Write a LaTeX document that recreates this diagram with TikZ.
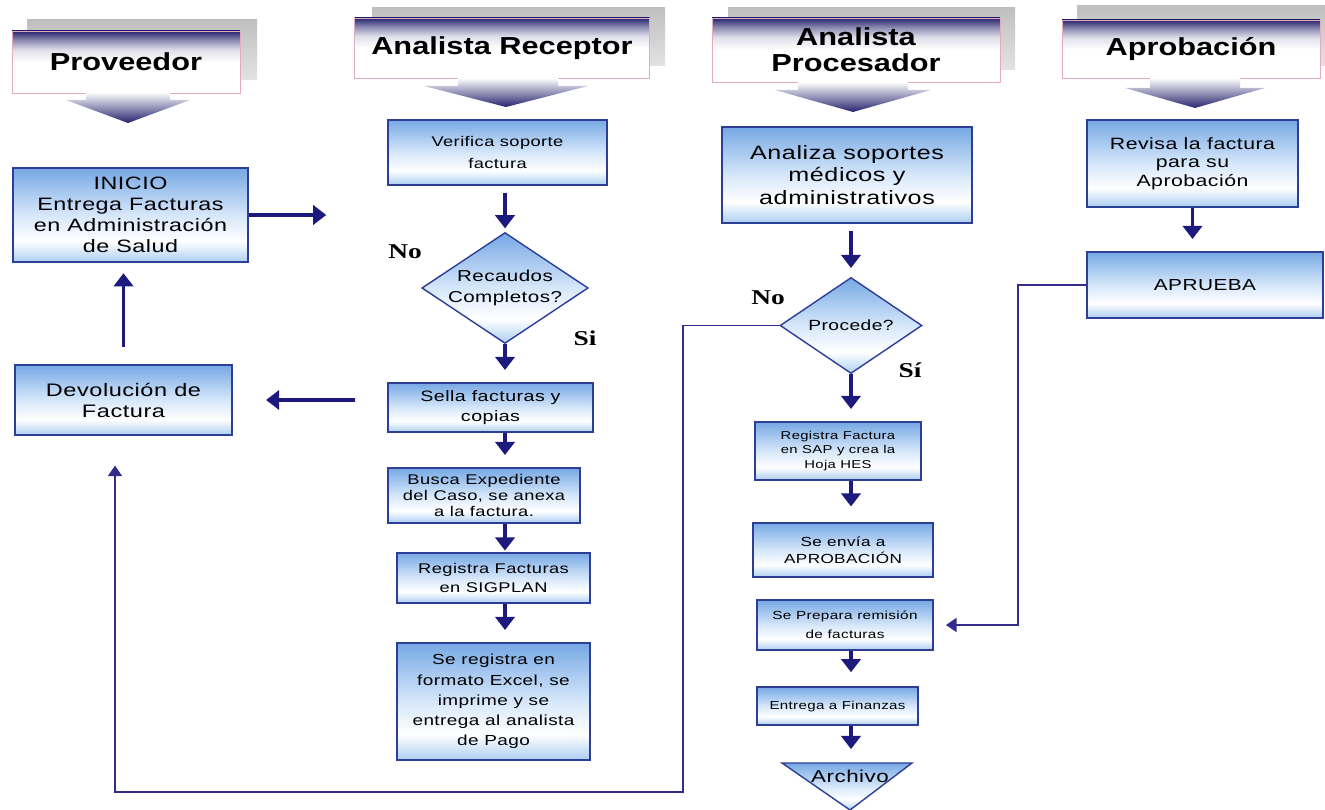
\documentclass[tikz,border=0pt]{standalone}
\usepackage{fontspec}
\setmainfont{Liberation Sans}
\newfontfamily\boxfont[FakeStretch=1.3,LetterSpace=3]{Liberation Sans}
\newfontfamily\hdrfont[FakeStretch=1.25]{Liberation Sans}
\newfontfamily\lblfont[FakeStretch=1.3]{Liberation Serif}
\usetikzlibrary{arrows.meta,shapes.geometric,calc}

\definecolor{hnavy}{RGB}{38,36,110}
\definecolor{flownavy}{RGB}{28,26,125}
\definecolor{loopnavy}{RGB}{50,45,140}
\definecolor{boxedge}{RGB}{45,62,150}
\definecolor{boxtop}{RGB}{118,168,228}
\definecolor{boxmid}{RGB}{214,231,250}
\definecolor{boxlow}{RGB}{172,206,241}
\definecolor{hdredge}{RGB}{226,172,186}

\pgfdeclareverticalshading{boxshade}{100bp}{color(0bp)=(boxlow); color(25bp)=(boxlow);
  color(36bp)=(white); color(50bp)=(boxmid); color(75bp)=(boxtop); color(100bp)=(boxtop)}
\pgfdeclareverticalshading{hdrshade}{100bp}{color(0bp)=(white); color(25bp)=(white);
  color(50bp)=(white); color(60bp)=(hnavy!15); color(68bp)=(hnavy!55); color(75bp)=(hnavy); color(100bp)=(hnavy)}

\newcommand{\fsz}[2]{\fontsize{#1}{#2}\selectfont}

\begin{document}
\begin{tikzpicture}[x=0.02cm, y=-0.02cm,
  procbox/.style={draw=boxedge, line width=0.8pt, shade, shading=boxshade, align=center, inner sep=1pt},
  decbox/.style={diamond, draw=boxedge, line width=0.8pt, shade, shading=boxshade, align=center, inner sep=0pt},
  hdrbox/.style={draw=hdredge, line width=0.4pt, shade, shading=hdrshade, align=center,
    font=\hdrfont\bfseries\fsz{14}{15}},
  hdrback/.style={top color=gray!50, bottom color=gray!22},
  hdrarrow/.style={top color=white, bottom color=hnavy},
  flow/.style={draw=flownavy, line width=2pt, -{Triangle[length=7.5pt,width=11pt]}},
  backline/.style={draw=loopnavy, line width=0.8pt, -{Triangle[length=6pt,width=8pt]}},
  yesno/.style={font=\lblfont\bfseries\fsz{12}{14}}
]
  \useasboundingbox (0,0) rectangle (1325,810);

  % grey plates behind the lane titles
  \shade[hdrback] (27,20) rectangle (257,80);
  \shade[hdrback] (372,8) rectangle (665,66);
  \shade[hdrback] (728,8) rectangle (1015,70);
  \shade[hdrback] (1077,6) rectangle (1325,66);

  % lane titles
  \node[hdrbox, minimum width=4.56cm, minimum height=1.24cm] (hprov) at (126,62) {Proveedor};
  \node[hdrbox, minimum width=5.9cm, minimum height=1.2cm] (hrec) at (502,48) {Analista Receptor};
  \node[hdrbox, minimum width=5.76cm, minimum height=1.28cm] (hproc) at (856,50) {Analista\\Procesador};
  \node[hdrbox, minimum width=5.16cm, minimum height=1.16cm] (hapr) at (1191,49) {Aprobación};

  % wide arrows under the titles
  \shade[hdrarrow] (86,92) -- (170,92) -- (170,100) -- (190,100) -- (128,123) -- (66,100) -- (86,100) -- cycle;
  \shade[hdrarrow] (458,78) -- (558,78) -- (558,86) -- (588,86) -- (506,107) -- (424,86) -- (458,86) -- cycle;
  \shade[hdrarrow] (798,82) -- (908,82) -- (908,90) -- (931,90) -- (853,112) -- (775,90) -- (798,90) -- cycle;
  \shade[hdrarrow] (1150,78) -- (1240,78) -- (1240,88) -- (1265,88) -- (1195,108) -- (1125,88) -- (1150,88) -- cycle;

  % Proveedor
  \node[procbox, minimum width=4.7cm, minimum height=1.88cm, font=\boxfont\fsz{10.2}{12}] (inicio) at (130.5,215)
    {INICIO\\Entrega Facturas\\en Administración\\de Salud};
  \node[procbox, minimum width=4.34cm, minimum height=1.4cm, font=\boxfont\fsz{10.3}{12}] (devol) at (123.5,400)
    {Devolución de\\Factura};

  % Analista Receptor
  \node[procbox, minimum width=4.38cm, minimum height=1.3cm, font=\boxfont\fsz{8}{12}] (verifica) at (497.5,152.5)
    {Verifica soporte\\factura};
  \node[decbox, aspect=1.5, minimum width=3.08cm, minimum height=2.2cm, font=\boxfont\fsz{9}{11.5}] (dia1) at (505,288)
    {Recaudos\\Completos?};
  \node[procbox, minimum width=4.1cm, minimum height=0.98cm, font=\boxfont\fsz{8.6}{11}] (sella) at (490.5,407.5)
    {Sella facturas y\\copias};
  \node[procbox, minimum width=3.84cm, minimum height=1.1cm, font=\boxfont\fsz{8}{9}] (busca) at (484,495.5)
    {Busca Expediente\\del Caso, se anexa\\a la factura.};
  \node[procbox, minimum width=3.86cm, minimum height=1.0cm, font=\boxfont\fsz{8}{10.5}] (sigplan) at (493.5,578)
    {Registra Facturas\\en SIGPLAN};
  \node[procbox, minimum width=3.86cm, minimum height=2.34cm, font=\boxfont\fsz{8.3}{11.5}] (excel) at (493.5,701.5)
    {Se registra en\\formato Excel, se\\imprime y se\\entrega al analista\\de Pago};

  % Analista Procesador
  \node[procbox, minimum width=5cm, minimum height=1.92cm, font=\boxfont\fsz{11}{13}] (analiza) at (847,175)
    {Analiza soportes\\médicos y\\administrativos};
  \node[decbox, minimum width=2.84cm, minimum height=1.9cm, font=\boxfont\fsz{8.4}{10}] (dia2) at (851,325.5)
    {Procede?};
  \node[procbox, minimum width=3.32cm, minimum height=1.16cm, font=\boxfont\fsz{6.5}{8.5}] (sap) at (838,451)
    {Registra Factura\\en SAP y crea la\\Hoja HES};
  \node[procbox, minimum width=3.6cm, minimum height=1.08cm, font=\boxfont\fsz{7.5}{9.5}] (envia) at (843,550)
    {Se envía a\\APROBACIÓN};
  \node[procbox, minimum width=3.52cm, minimum height=1cm, font=\boxfont\fsz{6.7}{11}] (prepara) at (845,625)
    {Se Prepara remisión\\de facturas};
  \node[procbox, minimum width=3.22cm, minimum height=0.76cm, font=\boxfont\fsz{6.6}{9}] (finanzas) at (837.5,706)
    {Entrega a Finanzas};
  \path[draw=boxedge, line width=0.8pt, shade, shading=boxshade] (782,763) -- (912,763) -- (850,810) -- cycle;
  \node[inner sep=0pt, minimum height=0.5cm, font=\boxfont\fsz{9.8}{11}] (archivo) at (850,776) {Archivo};

  % Aprobacion
  \node[procbox, minimum width=4.22cm, minimum height=1.74cm, font=\boxfont\fsz{9.3}{10.5}] (revisa) at (1192.5,163.5)
    {Revisa la factura\\para su\\Aprobación};
  \node[procbox, minimum width=4.72cm, minimum height=1.32cm, font=\boxfont\fsz{9.1}{11}] (aprueba) at (1205,285)
    {APRUEBA};

  % decision labels
  \node[yesno] (no1) at (405,252) {No};
  \node[yesno] (si1) at (585,338) {Si};
  \node[yesno] (no2) at (768,298) {No};
  \node[yesno] (si2) at (910,370) {Sí};

  % free arrow ends
  \coordinate (toRec) at (328,215);
  \coordinate (fromSella) at (355,400);
  \coordinate (noR) at (683,792);
  \coordinate (noL) at (115,792);
  \coordinate (apR) at (1018,625);

  % Proveedor flow
  \draw[flow, shorten >=1pt] (inicio.east) -- (toRec);
  \draw[flow, shorten <=10pt, shorten >=6pt] (devol.north) -- (devol.north |- inicio.south);
  \draw[flow, shorten >=19pt] (fromSella) -- (devol.east |- fromSella);

  % Receptor flow
  \draw[flow, shorten <=4pt, shorten >=2pt] (verifica.south -| dia1) -- (dia1.north);
  \draw[flow, shorten >=7pt] (dia1.south) -- (sella.north -| dia1);
  \draw[flow, shorten >=7pt] (sella.south -| dia1) -- (busca.north -| dia1);
  \draw[flow, shorten >=1pt] (busca.south -| dia1) -- (sigplan.north -| dia1);
  \draw[flow, shorten >=7pt] (sigplan.south -| dia1) -- (excel.north -| dia1);

  % Procesador flow
  \draw[flow, shorten <=4pt, shorten >=5pt] (analiza.south -| dia2) -- (dia2.north);
  \draw[flow, shorten >=7pt] (dia2.south) -- (sap.north -| dia2);
  \draw[flow, shorten >=9pt] (sap.south -| dia2) -- (envia.north -| dia2);
  \draw[flow, shorten >=8pt] (prepara.south -| dia2) -- (finanzas.north -| dia2);
  \draw[flow, shorten >=8pt] (finanzas.south -| dia2) -- (archivo.north -| dia2);

  % Aprobacion flow
  \draw[flow, shorten >=7pt] (revisa.south) -- (revisa.south |- aprueba.north);

  % return lines
  \draw[backline, shorten >=17pt] (dia2.west) -| (noR) -- (noL) -- (noL |- devol.south);
  \draw[backline, shorten >=7pt] (aprueba.west) -| (apR) -- (prepara.east);

\end{tikzpicture}
\end{document}
